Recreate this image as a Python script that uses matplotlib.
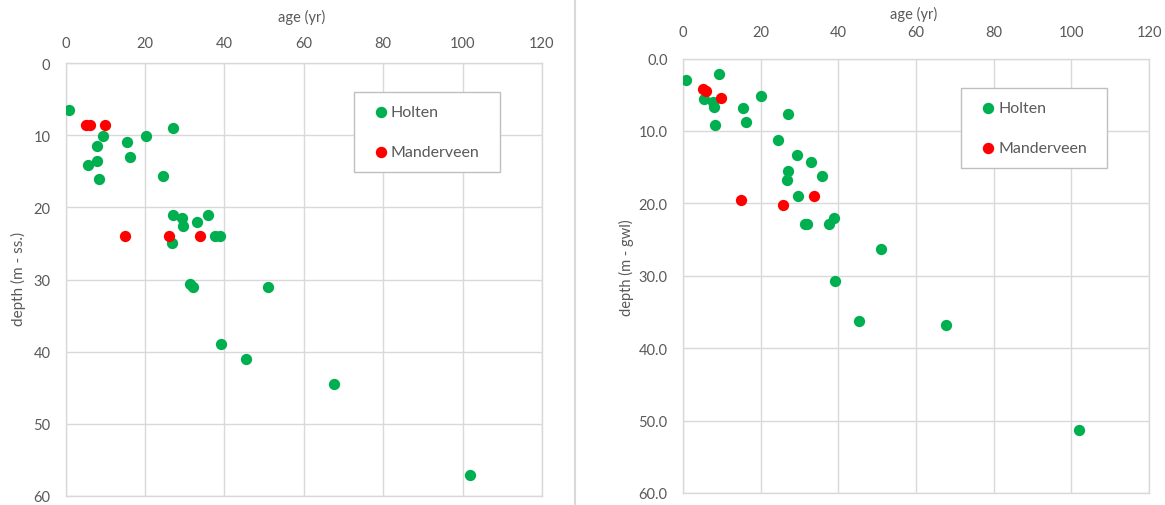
import matplotlib
matplotlib.use("Agg")
import matplotlib.pyplot as plt
from matplotlib.lines import Line2D

plt.rcParams['font.family'] = ['Lato', 'DejaVu Sans']

# Holten: groundwater age vs. sampling depth
holten_age = [0.8, 9.3, 5.5, 7.8, 8.0, 8.3, 20.2, 15.5, 16.1, 27.0, 24.5,
              27.0, 29.3, 35.9, 33.0, 29.5, 37.6, 39.0, 26.7, 31.4, 32.0,
              51.0, 39.1, 45.4, 67.6, 101.9]
holten_depth_ss = [6.5, 10.1, 14.1, 11.45, 13.6, 16.1, 10.1, 11.0, 13.0, 9.0, 15.6,
                   21.05, 21.5, 21.05, 22.1, 22.6, 24.0, 24.0, 25.0, 30.6, 31.0,
                   31.0, 39.0, 41.0, 44.5, 57.1]
holten_depth_gwl = [2.96, 2.1, 5.6, 6.0, 6.7, 9.2, 5.2, 6.9, 8.8, 7.6, 11.25,
                    15.5, 13.3, 16.2, 14.3, 19.0, 22.8, 22.0, 16.8, 22.8, 22.8,
                    26.3, 30.7, 36.3, 36.85, 51.35]

# Manderveen
mand_age = [5.1, 6.2, 10.0, 14.9, 26.1, 33.9]
mand_depth_ss = [8.6, 8.6, 8.6, 24.0, 24.0, 24.0]
mand_age_gwl = [5.2, 6.0, 9.9, 14.9, 25.8, 33.7]
mand_depth_gwl = [4.2, 4.5, 5.4, 19.5, 20.2, 19.0]

x_ticks = [0, 20, 40, 60, 80, 100, 120]
y_ticks = [0, 10, 20, 30, 40, 50, 60]

GREEN = '#00B050'
RED = '#FF0000'
TEXT = '#595959'
GRID = '#D9D9D9'

W, H = 1165, 506
fig = plt.figure(figsize=(W / 100, H / 100), dpi=100)


def px_axes(x0, y0, x1, y1):
    return fig.add_axes([x0 / W, 1 - y1 / H, (x1 - x0) / W, (y1 - y0) / H])


def style(ax, ylabels, pad_x, pad_y):
    ax.set_xlim(0, 120)
    ax.set_ylim(60, 0)
    ax.set_xticks(x_ticks)
    ax.set_yticks(y_ticks)
    ax.set_yticklabels(ylabels)
    ax.xaxis.tick_top()
    ax.tick_params(length=0, labelsize=10.5, labelcolor=TEXT)
    ax.tick_params(axis='x', pad=pad_x)
    ax.tick_params(axis='y', pad=pad_y)
    ax.grid(True, color=GRID, linewidth=1)
    ax.set_axisbelow(True)
    for s in ax.spines.values():
        s.set_color(GRID)
        s.set_linewidth(1)


def legend(x0, y0, x1, y1):
    # legend frame drawn in pixel coordinates of the figure
    lx0, ly0 = x0 / W, 1 - y1 / H
    box = plt.Rectangle((lx0, ly0), (x1 - x0) / W, (y1 - y0) / H,
                        transform=fig.transFigure, facecolor='white',
                        edgecolor='#BFBFBF', linewidth=1, zorder=5)
    fig.patches.append(box)
    for (lbl, col, yy) in [('Holten', GREEN, y0 + 20), ('Manderveen', RED, y0 + 60)]:
        fig.lines.append(Line2D([(x0 + 27) / W], [1 - yy / H], marker='o',
                                markersize=7.2, color=col, linestyle='none',
                                transform=fig.transFigure, zorder=6))
        fig.text((x0 + 37) / W, 1 - yy / H, lbl, fontsize=11.5, color=TEXT,
                 va='center', ha='left', zorder=6)


# left panel: depth below surface
ax1 = px_axes(65.7, 64, 542, 497)
style(ax1, [str(v) for v in y_ticks], 9, 11)
ax1.scatter(holten_age, holten_depth_ss, s=66, color=GREEN, linewidths=0, zorder=3)
ax1.scatter(mand_age, mand_depth_ss, s=66, color=RED, linewidths=0, zorder=3)
fig.text(302 / W, 1 - 17 / H, 'age (yr)', fontsize=10.5, color=TEXT, ha='center', va='center')
fig.text(18 / W, 1 - 279 / H, 'depth (m - ss.)', fontsize=11, color=TEXT,
         ha='center', va='center', rotation=90)
legend(354, 93, 500, 173)

# right panel: depth below groundwater level
ax2 = px_axes(683, 59.5, 1149, 494)
style(ax2, [f'{v:.1f}' for v in y_ticks], 14, 11)
ax2.scatter(holten_age, holten_depth_gwl, s=66, color=GREEN, linewidths=0, zorder=3)
ax2.scatter(mand_age_gwl, mand_depth_gwl, s=66, color=RED, linewidths=0, zorder=3)
fig.text(914 / W, 1 - 14 / H, 'age (yr)', fontsize=10.5, color=TEXT, ha='center', va='center')
fig.text(626 / W, 1 - 268 / H, 'depth (m - gwl)', fontsize=10.5, color=TEXT,
         ha='center', va='center', rotation=90)
legend(961, 89, 1107, 169)

# separator between the two charts
fig.lines.append(Line2D([575 / W, 575 / W], [0, 1], color=GRID, linewidth=1.5,
                        transform=fig.transFigure))

fig.savefig('out.png', dpi=100)
